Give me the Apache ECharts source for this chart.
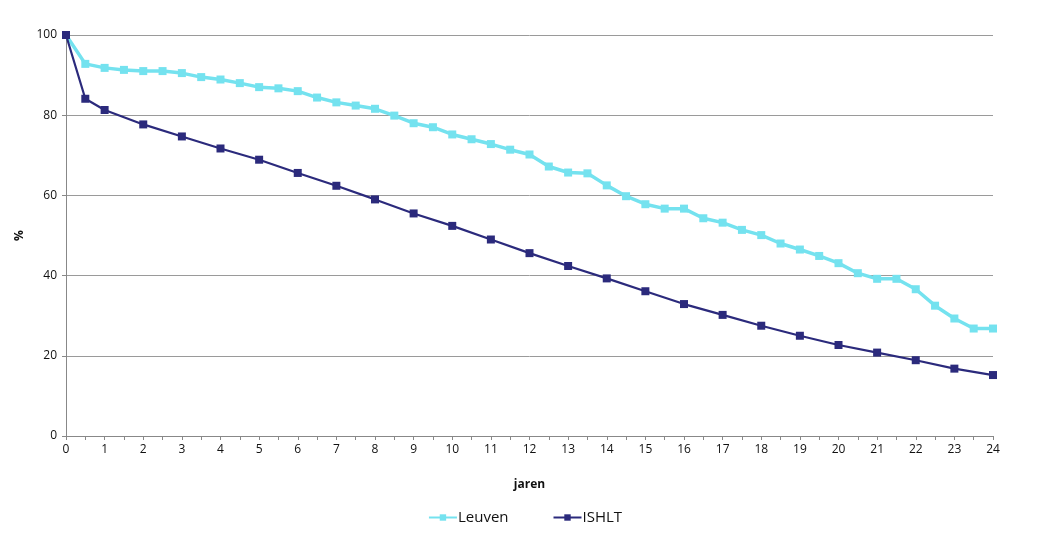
<!DOCTYPE html>
<html>
<head>
<meta charset="utf-8">
<script src="https://cdn.jsdelivr.net/npm/echarts@6/dist/echarts.min.js"></script>
<style>html,body{margin:0;padding:0;background:#fff}#c{width:1050px;height:541px}</style>
</head>
<body>
<div id="c"></div>
<script>
const leuvenYears = [0,0.5,1,1.5,2,2.5,3,3.5,4,4.5,5,5.5,6,6.5,7,7.5,8,8.5,9,9.5,10,10.5,11,11.5,12,12.5,13,13.5,14,14.5,15,15.5,16,16.5,17,17.5,18,18.5,19,19.5,20,20.5,21,21.5,22,22.5,23,23.5,24];
const leuvenValues = [100,92.8,91.8,91.3,91.0,91.0,90.5,89.5,88.9,88.0,87.0,86.7,86.0,84.4,83.2,82.4,81.6,79.9,78.0,77.0,75.2,74.0,72.8,71.4,70.2,67.2,65.7,65.5,62.5,59.8,57.8,56.7,56.7,54.3,53.2,51.4,50.1,48.0,46.5,44.9,43.1,40.6,39.2,39.2,36.6,32.5,29.3,26.8,26.8];
const ishltYears = [0,0.5,1,2,3,4,5,6,7,8,9,10,11,12,13,14,15,16,17,18,19,20,21,22,23,24];
const ishltValues = [100,84.1,81.3,77.7,74.7,71.7,68.9,65.6,62.4,59.0,55.5,52.4,49.0,45.6,42.4,39.3,36.1,32.9,30.2,27.5,25.0,22.7,20.8,18.9,16.8,15.2];
const yTicks = [0,20,40,60,80,100];
const seriesNames = ['Leuven','ISHLT'];

const font = '"Liberation Sans Narrow", "Open Sans", sans-serif';
const chart = echarts.init(document.getElementById('c'));
const pairs = (xs, ys) => xs.map((x, i) => [x, ys[i]]);
chart.setOption({
  animation: false,
  backgroundColor: '#fff',
  grid: { left: 66, right: 57, top: 35, bottom: 105, containLabel: false },
  xAxis: {
    type: 'value', min: 0, max: 24, interval: 0.5,
    name: 'jaren', nameLocation: 'middle', nameGap: 43,
    nameTextStyle: { fontFamily: font, fontWeight: 'bold', fontSize: 12, color: '#111' },
    axisLine: { show: true, lineStyle: { color: '#888', width: 1 } },
    axisTick: { show: true, length: 4, lineStyle: { color: '#888' } },
    axisLabel: { fontFamily: font, fontSize: 12, color: '#111', margin: 8,
      formatter: v => (Math.abs(v - Math.round(v)) < 1e-9 ? String(Math.round(v)) : '') },
    splitLine: { show: false }
  },
  yAxis: {
    type: 'value', min: yTicks[0], max: yTicks[yTicks.length - 1], interval: 20,
    name: '%', nameLocation: 'middle', nameGap: 38, nameRotate: 90,
    nameTextStyle: { fontFamily: font, fontWeight: 'bold', fontSize: 12, color: '#111' },
    axisLine: { show: true, lineStyle: { color: '#888', width: 1 } },
    axisTick: { show: true, length: 4, lineStyle: { color: '#888' } },
    axisLabel: { fontFamily: font, fontSize: 12, color: '#111', margin: 9 },
    splitLine: { show: true, lineStyle: { color: '#9a9a9a', width: 1 } }
  },
  legend: {
    bottom: 11, left: 'center', itemWidth: 28, itemHeight: 8, itemGap: 44,
    textStyle: { fontFamily: font, fontSize: 15, color: '#111', padding: [0,0,0,-4] },
    data: seriesNames
  },
  series: [
    { name: seriesNames[0], type: 'line', data: pairs(leuvenYears, leuvenValues),
      symbol: 'rect', symbolSize: 8, color: '#74e2ef',
      lineStyle: { width: 3.5, color: '#74e2ef' }, itemStyle: { color: '#74e2ef' }, z: 2 },
    { name: seriesNames[1], type: 'line', data: pairs(ishltYears, ishltValues),
      symbol: 'rect', symbolSize: 8, color: '#2b2a7c',
      lineStyle: { width: 2.2, color: '#2b2a7c' }, itemStyle: { color: '#2b2a7c' }, z: 3 }
  ]
});
</script>
</body>
</html>
